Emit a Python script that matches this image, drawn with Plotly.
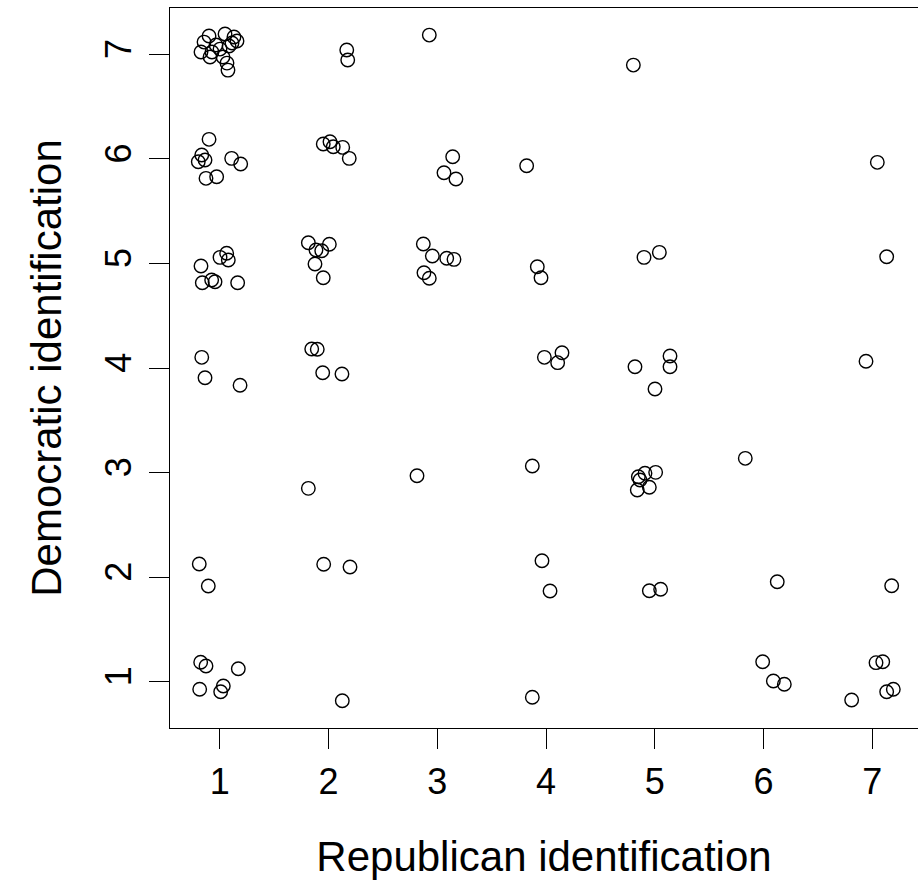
import plotly.graph_objects as go

# Jittered party identification scores
republican_id = [
    # Dem 7
    0.902, 1.049, 1.131, 1.159, 0.856, 0.828, 0.929, 0.911, 1.003, 1.086, 1.113, 1.030, 1.067, 1.076, 0.966,
    2.168, 2.177, 2.927, 4.803,
    # Dem 6
    0.902, 0.835, 0.803, 0.865, 0.874, 0.972, 1.110, 1.193,
    1.952, 2.014, 2.044, 2.131, 2.191,
    3.142, 3.062, 3.172, 3.822, 7.046,
    # Dem 5
    0.828, 0.840, 0.926, 0.957, 1.003, 1.064, 1.079, 1.165,
    1.815, 1.885, 1.938, 2.008, 1.876, 1.952,
    2.872, 2.955, 3.087, 3.154, 2.878, 2.927,
    3.920, 3.954, 4.901, 5.042, 7.132,
    # Dem 4
    0.835, 0.865, 1.187, 1.846, 1.897, 1.947, 2.124,
    3.985, 4.107, 4.147, 4.818, 5.140, 5.140, 5.002, 6.942,
    # Dem 3
    1.815, 2.814, 3.874, 4.849, 4.910, 5.008, 4.839, 4.950, 4.864, 5.832,
    # Dem 2
    0.812, 0.895, 1.956, 2.198, 3.963, 4.037, 4.950, 5.054, 6.126, 7.178,
    # Dem 1
    0.825, 0.874, 1.171, 0.816, 1.033, 1.009, 2.127, 3.874,
    5.992, 6.090, 6.191, 7.034, 7.096, 6.810, 7.132, 7.193,
]

democratic_id = [
    7.175, 7.194, 7.165, 7.127, 7.117, 7.022, 7.022, 6.974, 7.050, 7.079, 7.108, 6.974, 6.916, 6.849, 7.089,
    7.041, 6.945, 7.184, 6.897,
    6.187, 6.037, 5.973, 5.989, 5.814, 5.829, 6.005, 5.951,
    6.142, 6.164, 6.116, 6.110, 6.005,
    6.021, 5.868, 5.807, 5.934, 5.967,
    4.975, 4.816, 4.842, 4.825, 5.058, 5.097, 5.033, 4.816,
    5.198, 5.128, 5.122, 5.183, 4.994, 4.863,
    5.186, 5.071, 5.049, 5.039, 4.911, 4.858,
    4.969, 4.863, 5.058, 5.106, 5.064,
    4.102, 3.907, 3.835, 4.182, 4.179, 3.955, 3.943,
    4.102, 4.051, 4.146, 4.012, 4.115, 4.012, 3.799, 4.064,
    2.849, 2.970, 3.063, 2.960, 2.993, 3.002, 2.833, 2.859, 2.929, 3.136,
    2.126, 1.915, 2.123, 2.097, 2.157, 1.867, 1.870, 1.884, 1.956, 1.918,
    1.186, 1.150, 1.124, 0.927, 0.959, 0.904, 0.818, 0.851,
    1.191, 1.007, 0.975, 1.182, 1.191, 0.825, 0.904, 0.927,
]

tick_values = [1, 2, 3, 4, 5, 6, 7]
tick_labels = ["1", "2", "3", "4", "5", "6", "7"]

FONT = "Liberation Sans, Arial, Helvetica, sans-serif"

fig = go.Figure(
    go.Scatter(
        x=republican_id,
        y=democratic_id,
        mode="markers",
        marker=dict(symbol="circle-open", size=13.5, color="black",
                    line=dict(width=1.4, color="black")),
        hoverinfo="x+y",
        showlegend=False,
    )
)

fig.update_layout(
    width=918,
    height=880,
    margin=dict(l=170, r=0, t=8, b=152),
    paper_bgcolor="white",
    plot_bgcolor="white",
    font=dict(family=FONT, color="black"),
)

fig.update_xaxes(
    range=[0.543, 7.420],
    tickvals=tick_values,
    ticktext=tick_labels,
    ticks="outside",
    ticklen=20,
    tickwidth=1.4,
    tickcolor="black",
    showline=True,
    linecolor="black",
    linewidth=1.4,
    mirror=True,
    showgrid=False,
    zeroline=False,
    tickfont=dict(size=36, family=FONT),
    ticklabelstandoff=2,
    title=dict(text="Republican identification", font=dict(size=42, family=FONT), standoff=43),
)

fig.update_yaxes(
    range=[0.557, 7.443],
    tickvals=tick_values,
    ticktext=tick_labels,
    tickangle=-90,
    ticks="outside",
    ticklen=20,
    tickwidth=1.4,
    tickcolor="black",
    showline=True,
    linecolor="black",
    linewidth=1.4,
    mirror=False,
    showgrid=False,
    zeroline=False,
    tickfont=dict(size=36, family=FONT),
    ticklabelstandoff=3,
    title=dict(text="Democratic identification", font=dict(size=42, family=FONT), standoff=23),
)

fig.write_html(
    "out.html",
    config={"displayModeBar": False},
    post_script="document.body.style.margin='0';document.body.style.overflow='hidden';",
)
